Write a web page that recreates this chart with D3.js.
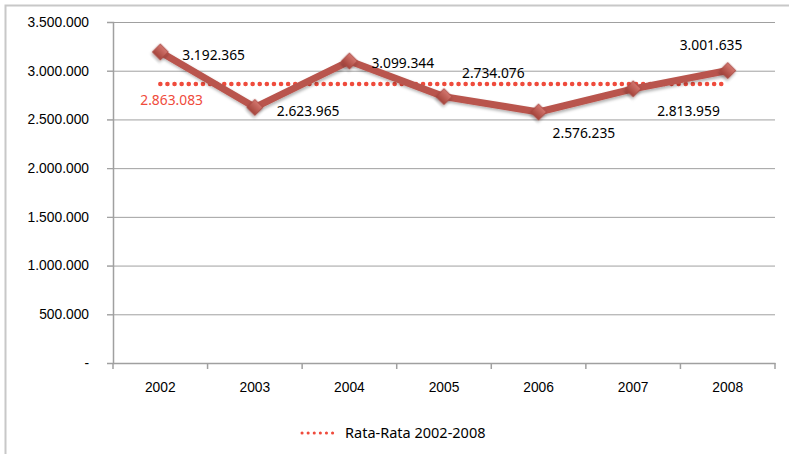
<!DOCTYPE html>
<html>
<head>
<meta charset="utf-8">
<script src="https://cdn.jsdelivr.net/npm/d3@7"></script>
<style>
  body { margin: 0; background: #fff; }
  svg { font-family: "Noto Sans", sans-serif; }
</style>
</head>
<body>
<div id="chart"></div>
<script>
// data
var years = ["2002", "2003", "2004", "2005", "2006", "2007", "2008"];
var values = [3192365, 2623965, 3099344, 2734076, 2576235, 2813959, 3001635];
var average = 2863083;
var yTicks = [0, 500000, 1000000, 1500000, 2000000, 2500000, 3000000, 3500000];
var legendLabel = "Rata-Rata 2002-2008";

// where each value label sits relative to its marker
var labelOffsets = [[22, 3], [22, 4], [22, 2], [18, -24], [14, 21], [24, 22], [-48, -26]];

var width = 789;
var height = 454;
var margin = ({top: 22, right: 14, bottom: 91, left: 113});

var fmt = function(v) {
  if (v === 0) return "-";
  return d3.format(",")(v).replace(/,/g, ".");
};

var svg = d3.select("#chart")
  .append("svg")
    .attr("width", width)
    .attr("height", height);

// outer chart border (cropped on right and bottom)
svg.append("rect")
  .attr("x", 5.5).attr("y", 5.5)
  .attr("width", width + 20).attr("height", height + 20)
  .attr("fill", "none")
  .attr("stroke", "#c8c8c8")
  .attr("stroke-width", 2);

var x = d3.scaleBand()
  .domain(years)
  .range([margin.left, width - margin.right]);

var y = d3.scaleLinear()
  .domain([0, 3500000])
  .range([height - margin.bottom, margin.top]);

var cx = function(i) { return x(years[i]) + x.bandwidth() / 2; };

// gridlines
svg.append("g")
  .selectAll("line")
  .data(yTicks.slice(1))
  .join("line")
    .attr("x1", margin.left - 6)
    .attr("x2", width - margin.right)
    .attr("y1", d => y(d) + 0.5)
    .attr("y2", d => y(d) + 0.5)
    .attr("stroke", "#a0a0a0")
    .attr("stroke-width", 1);

// y axis
var yAxis = svg.append("g")
  .attr("transform", `translate(${margin.left},0)`)
  .call(d3.axisLeft(y).tickValues(yTicks).tickFormat(fmt).tickSize(6).tickPadding(18));
yAxis.select(".domain").attr("stroke", "#a0a0a0").attr("stroke-width", 1.5);
yAxis.selectAll(".tick line").attr("stroke", "#a0a0a0");
yAxis.selectAll(".tick text")
  .attr("font-size", "13.8px")
  .attr("fill", "#000");

// x axis with ticks between categories
var xAxis = svg.append("g")
  .attr("transform", `translate(0,${y(0)})`)
  .call(d3.axisBottom(x).tickSize(0).tickPadding(19));
xAxis.select(".domain").attr("stroke", "#a0a0a0").attr("stroke-width", 1.5);
xAxis.selectAll(".tick text")
  .attr("font-size", "13.8px")
  .attr("fill", "#000");
xAxis.selectAll(".sep")
  .data(years.concat(["end"]))
  .join("line")
    .attr("class", "sep")
    .attr("x1", (d, i) => margin.left + i * x.bandwidth())
    .attr("x2", (d, i) => margin.left + i * x.bandwidth())
    .attr("y1", 0)
    .attr("y2", 6)
    .attr("stroke", "#a0a0a0")
    .attr("stroke-width", 1.5);

// average dotted line
svg.append("line")
  .attr("x1", cx(0))
  .attr("x2", cx(years.length - 1))
  .attr("y1", y(average))
  .attr("y2", y(average))
  .attr("stroke", "#ef4b3c")
  .attr("stroke-width", 4.5)
  .attr("stroke-linecap", "round")
  .attr("stroke-dasharray", "0.1 7");

svg.append("text")
  .attr("x", cx(0) - 20)
  .attr("y", y(average) + 21)
  .attr("font-size", "13.8px")
  .attr("fill", "#ef4b3c")
  .text(fmt(average));

// shadow filter for markers & line
var defs = svg.append("defs");
var f = defs.append("filter").attr("id", "shadow").attr("x", "-20%").attr("y", "-20%").attr("width", "150%").attr("height", "150%");
f.append("feDropShadow").attr("dx", 1).attr("dy", 2).attr("stdDeviation", 1.5).attr("flood-color", "#000").attr("flood-opacity", 0.3);

var grad = defs.append("linearGradient").attr("id", "mk").attr("x1", 0).attr("y1", 0).attr("x2", 0).attr("y2", 1);
grad.append("stop").attr("offset", "0%").attr("stop-color", "#d4776f");
grad.append("stop").attr("offset", "100%").attr("stop-color", "#a4443c");

var line = d3.line()
  .x((d, i) => cx(i))
  .y(d => y(d));

svg.append("path")
  .datum(values)
  .attr("d", line)
  .attr("fill", "none")
  .attr("stroke", "#b9554d")
  .attr("stroke-width", 7)
  .attr("stroke-linejoin", "round")
  .attr("filter", "url(#shadow)");

svg.append("g")
  .selectAll("path")
  .data(values)
  .join("path")
    .attr("d", d3.symbol(d3.symbolSquare, 130))
    .attr("transform", (d, i) => `translate(${cx(i)},${y(d)}) rotate(45)`)
    .attr("fill", "url(#mk)")
    .attr("stroke", "#a8463f")
    .attr("stroke-width", 0.8)
    .attr("filter", "url(#shadow)");

// value labels
svg.append("g")
  .selectAll("text")
  .data(values)
  .join("text")
    .attr("x", (d, i) => cx(i) + labelOffsets[i][0])
    .attr("y", (d, i) => y(d) + labelOffsets[i][1] + 5)
    .attr("font-size", "13.8px")
    .attr("fill", "#000")
    .text(d => fmt(d));

// legend
var legend = svg.append("g").attr("transform", "translate(302,433)");
legend.append("line")
  .attr("x1", 0).attr("x2", 32)
  .attr("y1", 0).attr("y2", 0)
  .attr("stroke", "#ef4b3c")
  .attr("stroke-width", 3)
  .attr("stroke-linecap", "round")
  .attr("stroke-dasharray", "0.1 6");
legend.append("text")
  .attr("x", 43)
  .attr("y", 5)
  .attr("font-size", "14.5px")
  .attr("fill", "#000")
  .text(legendLabel);
</script>
</body>
</html>
